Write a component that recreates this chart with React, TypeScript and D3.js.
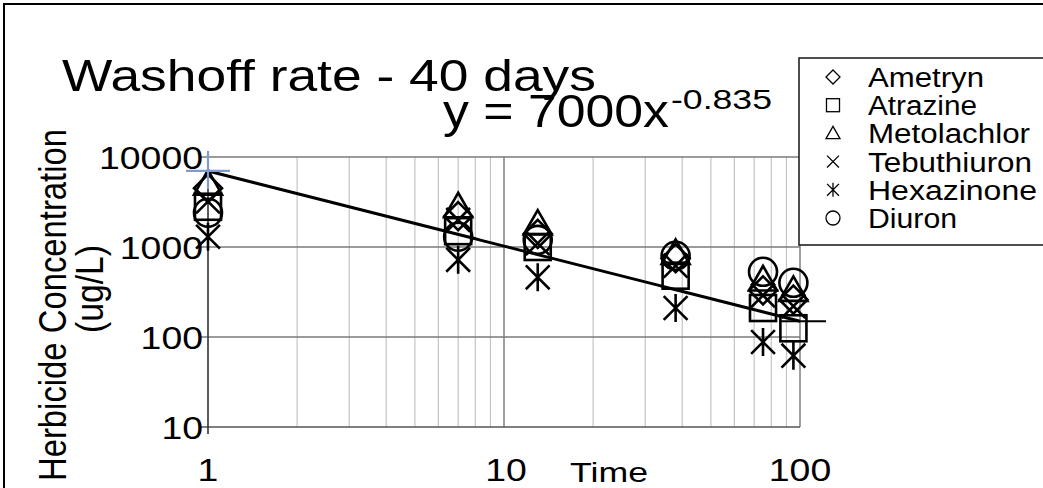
import React from "react";
import * as d3 from "d3";

const times = [1, 7, 13, 38, 75, 95];
const seriesNames = ["Ametryn", "Atrazine", "Metolachlor", "Tebuthiuron", "Hexazinone", "Diuron"];
const ametryn = [4500, 2200, 1400, 750, 330, 260];
const atrazine = [2800, 1500, 1000, 480, 210, 125];
const metolachlor = [5000, 2800, 1800, 850, 430, 330];
const tebuthiuron = [3200, 2000, 1100, 620, 290, 220];
const hexazinone = [1300, 720, 460, 210, 88, 62];
const diuron = [2400, 1300, 1200, 800, 530, 400];
const seriesValues = [ametryn, atrazine, metolachlor, tebuthiuron, hexazinone, diuron];
const seriesShapes = ["diamond", "square", "triangle", "x", "asterisk", "circle"];
const yTicks = [10, 100, 1000, 10000];
const xTicks = [1, 10, 100];
const fitA = 7000;
const fitB = -0.835;

function Marker({ shape, cx, cy, h, sw, color = "#000" }: any) {
  const common = { fill: "none", stroke: color, strokeWidth: sw };
  switch (shape) {
    case "diamond":
      return <path d={`M${cx},${cy - h}L${cx + h},${cy}L${cx},${cy + h}L${cx - h},${cy}Z`} {...common} />;
    case "square":
      return <rect x={cx - h * 0.93} y={cy - h * 0.93} width={h * 1.86} height={h * 1.86} {...common} />;
    case "triangle":
      return <path d={`M${cx},${cy - h}L${cx + h},${cy + h * 0.75}L${cx - h},${cy + h * 0.75}Z`} {...common} />;
    case "x":
      return <path d={`M${cx - h * 0.85},${cy - h * 0.85}L${cx + h * 0.85},${cy + h * 0.85}M${cx + h * 0.85},${cy - h * 0.85}L${cx - h * 0.85},${cy + h * 0.85}`} {...common} />;
    case "asterisk":
      return <path d={`M${cx - h * 0.85},${cy - h * 0.85}L${cx + h * 0.85},${cy + h * 0.85}M${cx + h * 0.85},${cy - h * 0.85}L${cx - h * 0.85},${cy + h * 0.85}M${cx},${cy - h}L${cx},${cy + h}`} {...common} />;
    case "circle":
      return <circle cx={cx} cy={cy} r={h} {...common} />;
  }
  return null;
}

export default function App() {
  const W = 1043, H = 488;
  const x = d3.scaleLog().domain([1, 100]).range([208, 800]);
  const y = d3.scaleLog().domain([10, 10000]).range([427, 157]);
  const minor: number[] = [];
  for (const d of [1, 10]) for (let k = 2; k <= 9; k++) minor.push(d * k);
  const fitXs = d3.range(0, 101).map((i) => Math.pow(10, (2 * i) / 100));
  const line = d3.line<number>().x((v) => x(v)).y((v) => y(fitA * Math.pow(v, fitB)));
  const font = "'Liberation Sans', Arial, sans-serif";
  const legendY0 = 87;
  const legendStep = 28.2;
  const legendWidths = [116, 109, 162, 164, 169, 89];
  return (
    <svg width={W} height={H} style={{ position: "fixed", left: 0, top: 0, background: "#fff" }} fontFamily={font}>
      <rect x={0} y={0} width={W} height={H} fill="#fff" />
      <rect x={4} y={4} width={W + 10} height={H + 10} fill="none" stroke="#000" strokeWidth={2} />
      {minor.map((m) => (
        <line key={m} x1={x(m)} x2={x(m)} y1={y(10000)} y2={y(10)} stroke="#c4c4c4" strokeWidth={1.2} />
      ))}
      {[10, 100].map((m) => (
        <line key={"M" + m} x1={x(m)} x2={x(m)} y1={y(10000)} y2={y(10)} stroke="#808080" strokeWidth={1.5} />
      ))}
      {yTicks.map((t) => (
        <line key={"h" + t} x1={200} x2={x(100)} y1={y(t)} y2={y(t)} stroke={t === 10 ? "#555" : "#7a7a7a"} strokeWidth={1.6} />
      ))}
      <line x1={x(1)} x2={x(1)} y1={y(10000)} y2={434} stroke="#333" strokeWidth={1.6} />
      {yTicks.map((t) => {
        const s = String(t);
        return (
          <text key={"yl" + t} x={203} y={y(t) + 12} fontSize={32} textAnchor="end" textLength={s.length * 20.8} lengthAdjust="spacingAndGlyphs">
            {s}
          </text>
        );
      })}
      {xTicks.map((t) => {
        const s = String(t);
        return (
          <text key={"xl" + t} x={x(t) + (t === 10 ? 2 : 0)} y={481} fontSize={32} textAnchor="middle" textLength={s.length * 20.8} lengthAdjust="spacingAndGlyphs">
            {s}
          </text>
        );
      })}
      <text x={570} y={482} fontSize={28} textLength={78} lengthAdjust="spacingAndGlyphs">Time</text>
      <text transform="translate(66,305) scale(1.3,1) rotate(-90)" fontSize={30} textAnchor="middle" textLength={352} lengthAdjust="spacingAndGlyphs">
        Herbicide Concentration
      </text>
      <text transform="translate(103,289) scale(1.3,1) rotate(-90)" fontSize={30} textAnchor="middle" textLength={88} lengthAdjust="spacingAndGlyphs">
        (ug/L)
      </text>
      <text x={62} y={91} fontSize={44} textLength={534} lengthAdjust="spacingAndGlyphs">Washoff rate - 40 days</text>
      <text x={443} y={127} fontSize={46} textLength={226} lengthAdjust="spacingAndGlyphs">y = 7000x</text>
      <text x={671} y={109} fontSize={27} textLength={101} lengthAdjust="spacingAndGlyphs">-0.835</text>
      {seriesValues.map((vals, si) => (
        <g key={"s" + si}>
          {vals.map((v, i) => (
            <Marker key={i} shape={seriesShapes[si]} cx={x(times[i])} cy={y(v)} h={14} sw={2.6} />
          ))}
        </g>
      ))}
      <path d={line(fitXs) || ""} fill="none" stroke="#000" strokeWidth={3} />
      <path d={`M${x(1) - 22},${y(fitA)}H${x(1) + 22}M${x(1)},${y(fitA) - 20}V${y(fitA) + 18}`} stroke="#7f9ccc" strokeWidth={2.2} fill="none" />
      <path d={`M${x(100) - 20},${y(fitA * Math.pow(100, fitB))}H${x(100) + 26}`} stroke="#000" strokeWidth={1.8} fill="none" />
      <rect x={799} y={58} width={300} height={187} fill="#fff" stroke="#222" strokeWidth={1.6} />
      {seriesNames.map((n, i) => {
        const by = legendY0 + i * legendStep;
        return (
          <g key={n}>
            <Marker shape={seriesShapes[i]} cx={833} cy={by - 10} h={7} sw={1.3} />
            <text x={868} y={by} fontSize={27} textLength={legendWidths[i]} lengthAdjust="spacingAndGlyphs">{n}</text>
          </g>
        );
      })}
    </svg>
  );
}
